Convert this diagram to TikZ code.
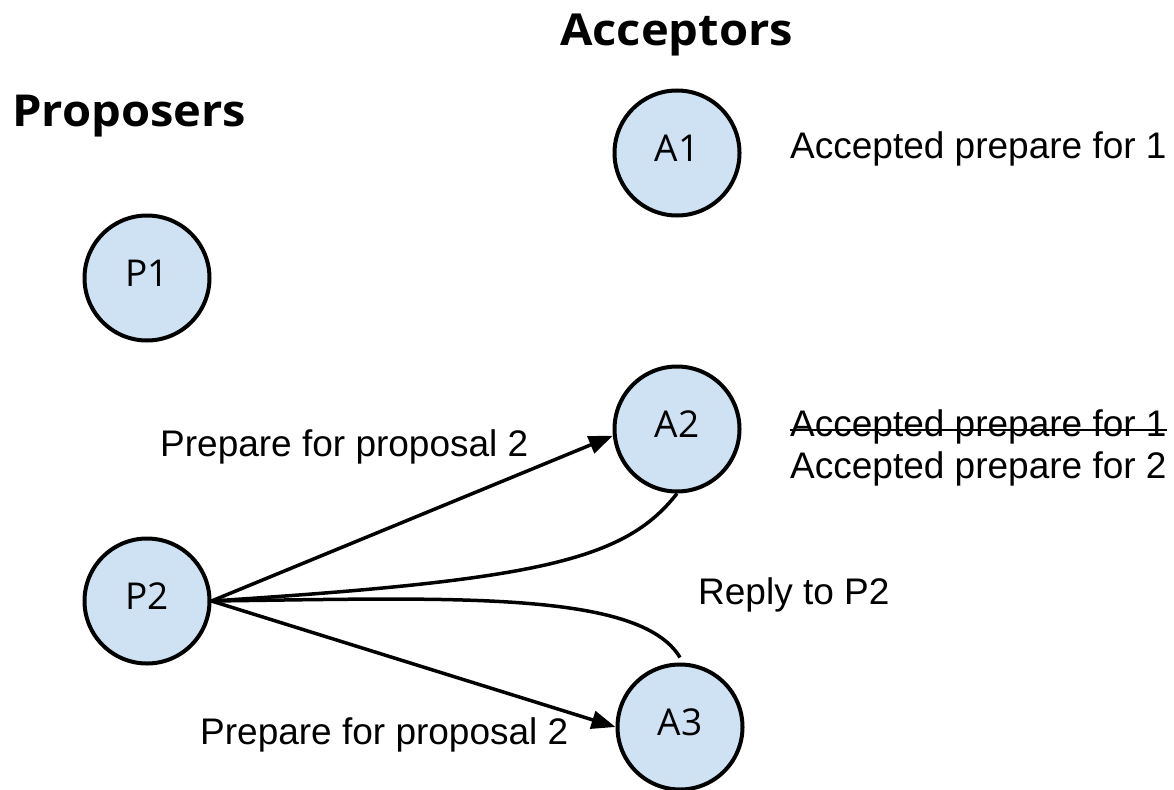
\documentclass[tikz,border=0pt]{standalone}
\usepackage{fontspec}
\setmainfont{Liberation Sans}
\newfontfamily\labelfont{Open Sans}
\newfontfamily\headfont{Open Sans}[FakeStretch=1.07]
\usetikzlibrary{arrows.meta}
\definecolor{nodefill}{HTML}{CFE2F3}
\begin{document}
\begin{tikzpicture}[x=1pt,y=-1pt,
  agent/.style={circle,draw,line width=4pt,fill=nodefill,minimum size=125pt,
    inner sep=0pt,text depth=9pt,font=\labelfont\fontsize{37}{44}\selectfont},
  note/.style={anchor=base west,inner sep=0pt,font=\fontsize{37}{44}\selectfont},
  heading/.style={anchor=base west,inner sep=0pt,
    font=\headfont\bfseries\fontsize{44}{52}\selectfont},
  msg/.style={line width=3.5pt,-{Triangle[length=24pt,width=18pt]}},
  reply/.style={line width=3.5pt}]
\useasboundingbox (0,0) rectangle (1174,789);

% column headings
\node[heading] (hprop) at (12,126) {Proposers};
\node[heading] (hacc) at (560,46) {Acceptors};

% proposers and acceptors
\node[agent] (P1) at (147,278) {P1};
\node[agent] (P2) at (147,601) {P2};
\node[agent] (A1) at (677,153) {A1};
\node[agent] (A2) at (677,429) {A2};
\node[agent] (A3) at (680,727) {A3};

% acceptor state
\node[note] (s1) at (790,158) {Accepted prepare for 1};
\node[note] (s2old) at (790,436) {Accepted prepare for 1};
\node[note] (s2new) at (790,478) {Accepted prepare for 2};
\draw[line width=2.5pt] ([yshift=6pt]s2old.base west) -- ([yshift=6pt]s2old.base east);

% message labels
\node[note] (m1) at (160,456) {Prepare for proposal 2};
\node[note] (m2) at (200,744) {Prepare for proposal 2};
\node[note] (rl) at (698,604) {Reply to P2};

% prepare messages
\draw[msg] (P2.east) -- (A2.186);
\draw[msg] (P2.east) -- (A3.west);

% replies
\draw[reply] (A2.south) .. controls (625,560) and (540,580) .. (P2.east);
\coordinate (r3) at ([yshift=5pt]A3.north);
\draw[reply] (r3) .. controls (640,590) and (450,598) .. (P2.east);
\end{tikzpicture}
\end{document}
